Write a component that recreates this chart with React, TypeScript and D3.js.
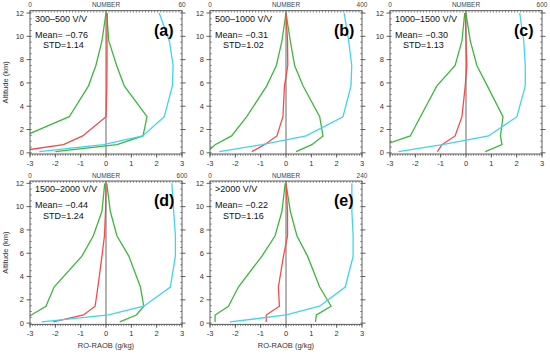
import * as d3 from "d3";

// altitude levels (km) shared by every profile
const levels = [0.1, 0.7, 1.45, 3.1, 5.75, 7.5, 9.6, 12];

const panelIds = ["(a)", "(b)", "(c)", "(d)", "(e)"];
const bins = ["300–500 V/V", "500–1000 V/V", "1000–1500 V/V", "1500–2000 V/V", ">2000 V/V"];
const means = ["−0.76", "−0.31", "−0.30", "−0.44", "−0.22"];
const stds = ["1.14", "1.02", "1.13", "1.24", "1.16"];
const numberMax = [60, 400, 600, 600, 240];

// mean RO-RAOB difference (g/kg)
const meanA = [-3.6, -1.68, -0.92, 0.0, 0.03, 0.04, 0.04, 0.05];
const meanB = [-1.35, -0.85, -0.36, -0.12, -0.06, 0.07, 0.06, 0.0];
const meanC = [-1.13, -0.95, -0.43, -0.16, -0.03, 0.03, 0.0, -0.03];
const meanD = [-2.08, -0.89, -0.43, -0.32, -0.16, -0.06, -0.02, 0.0];
const meanE = [-0.78, -0.78, -0.26, -0.3, -0.1, 0.06, 0.06, 0.0];

// mean - std
const lowA = [-5.0, -4.0, -3.22, -1.45, -0.69, -0.4, -0.16, 0.0];
const lowB = [-3.1, -2.8, -2.15, -1.55, -0.76, -0.38, -0.16, 0.0];
const lowC = [-4.0, -3.2, -2.2, -1.8, -1.15, -0.43, -0.16, -0.05];
const lowD = [-3.6, -2.95, -2.37, -2.05, -0.95, -0.5, -0.16, -0.05];
const lowE = [-2.8, -2.8, -2.27, -1.88, -0.95, -0.43, -0.16, -0.03];

// mean + std
const highA = [-2.0, 0.43, 1.46, 1.62, 0.72, 0.42, 0.11, 0.03];
const highB = [0.4, 1.02, 1.46, 1.33, 0.67, 0.34, 0.17, 0.0];
const highC = [0.76, 1.42, 1.36, 1.46, 0.84, 0.43, 0.17, 0.0];
const highD = [0.54, 1.2, 1.49, 1.36, 0.9, 0.43, 0.17, 0.03];
const highE = [1.16, 1.2, 1.78, 1.33, 0.85, 0.43, 0.17, 0.0];

// sample number (top axis)
const countA = [3.7, 29, 44.5, 53, 56.2, 56.5, 55, 51];
const countB = [24.7, 136.7, 253, 350, 371, 373, 365, 353];
const countC = [33, 207, 389, 501, 534, 534, 528, 512];
const countD = [46, 310, 449, 554, 574, 574, 567, 560];
const countE = [31.6, 120.4, 173, 213.6, 226, 226, 224, 224];

const meanSeries = [meanA, meanB, meanC, meanD, meanE];
const lowSeries = [lowA, lowB, lowC, lowD, lowE];
const highSeries = [highA, highB, highC, highD, highE];
const countSeries = [countA, countB, countC, countD, countE];

const xTicks = [-3, -2, -1, 0, 1, 2, 3];
const yTicks = [0, 2, 4, 6, 8, 10, 12];

const W = 550;
const H = 355;
const pw = 152;
const ph = 143.3;
const origins = [
  [30, 10.7],
  [210, 10.7],
  [390, 10.7],
  [30, 181],
  [210, 181],
];

const RED = "#ff4646";
const GREEN = "#3cb83c";
const CYAN = "#3fd3f5";
const AXIS = "#3a3a3a";
const FONT = "'Liberation Sans', Arial, sans-serif";

function Panel({ i }: { i: number }) {
  const [ox, oy] = origins[i];
  const x = d3.scaleLinear().domain([-3, 3]).range([0, pw]);
  const y = d3.scaleLinear().domain([-0.1, 12.2]).range([ph, 0]);
  const n = d3.scaleLinear().domain([0, numberMax[i]]).range([0, pw]);

  const line = d3
    .line<number>()
    .x((d) => x(d))
    .y((_, k) => y(levels[k]));
  const countLine = d3
    .line<number>()
    .x((d) => n(d))
    .y((_, k) => y(levels[k]));

  const minorX = d3.range(-3, 3.001, 0.1);
  const minorY = d3.range(0, 12.2, 0.5);
  const minorN = d3.range(0, 1.0001, 0.02).map((f) => f * numberMax[i]);
  const clipId = `clip${i}`;

  return (
    <g transform={`translate(${ox},${oy})`}>
      <defs>
        <clipPath id={clipId}>
          <rect x={0} y={0} width={pw} height={ph} />
        </clipPath>
      </defs>
      <rect x={0} y={0} width={pw} height={ph} fill="white" />
      {/* zero line */}
      <line x1={x(0)} x2={x(0)} y1={0} y2={ph} stroke="#b4b4b4" strokeWidth={2} />
      <g clipPath={`url(#${clipId})`} fill="none" strokeWidth={1.3}>
        <path d={line(lowSeries[i]) || ""} stroke={GREEN} />
        <path d={line(highSeries[i]) || ""} stroke={GREEN} />
        <path d={line(meanSeries[i]) || ""} stroke={RED} />
        <path d={countLine(countSeries[i]) || ""} stroke={CYAN} />
      </g>
      {/* frame */}
      <rect x={0} y={0} width={pw} height={ph} fill="none" stroke={AXIS} strokeWidth={0.8} />
      {/* bottom ticks */}
      {minorX.map((v, k) => (
        <line key={"bx" + k} x1={x(v)} x2={x(v)} y1={ph} y2={ph + 1.8} stroke={AXIS} strokeWidth={0.6} />
      ))}
      {xTicks.map((v) => (
        <g key={"xt" + v}>
          <line x1={x(v)} x2={x(v)} y1={ph} y2={ph + 3.5} stroke={AXIS} strokeWidth={0.8} />
          <text x={x(v)} y={ph + 12} fontSize={7.5} textAnchor="middle" fill="#333" fontFamily={FONT}>
            {v}
          </text>
        </g>
      ))}
      {/* top ticks (NUMBER) */}
      {minorN.map((v, k) => (
        <line key={"tn" + k} x1={n(v)} x2={n(v)} y1={0} y2={1.8} stroke={AXIS} strokeWidth={0.6} />
      ))}
      <text x={0} y={-3.5} fontSize={6.5} textAnchor="middle" fill="#444" fontFamily={FONT}>
        0
      </text>
      <text x={pw / 2} y={-3.5} fontSize={6.5} textAnchor="middle" fill="#444" fontFamily={FONT}>
        NUMBER
      </text>
      <text x={pw} y={-3.5} fontSize={6.5} textAnchor="middle" fill="#444" fontFamily={FONT}>
        {numberMax[i]}
      </text>
      {/* left / right ticks */}
      {minorY.map((v, k) => (
        <g key={"my" + k}>
          <line x1={0} x2={1.8} y1={y(v)} y2={y(v)} stroke={AXIS} strokeWidth={0.6} />
          <line x1={pw} x2={pw - 1.8} y1={y(v)} y2={y(v)} stroke={AXIS} strokeWidth={0.6} />
        </g>
      ))}
      {yTicks.map((v) => (
        <g key={"yt" + v}>
          <line x1={0} x2={-3.5} y1={y(v)} y2={y(v)} stroke={AXIS} strokeWidth={0.8} />
          <line x1={pw} x2={pw + 3.5} y1={y(v)} y2={y(v)} stroke={AXIS} strokeWidth={0.8} />
          <text x={-6} y={y(v) + 2.6} fontSize={7.5} textAnchor="end" fill="#333" fontFamily={FONT}>
            {v}
          </text>
        </g>
      ))}
      {/* annotations */}
      <g fontFamily={FONT} fill="#111" fontSize={9}>
        <text x={5} y={11}>{bins[i]}</text>
        <text x={5} y={27}>Mean= {means[i]}</text>
        <text x={13} y={37.5}>STD={stds[i]}</text>
      </g>
      <text x={124} y={25} fontFamily={FONT} fontWeight="bold" fontSize={16} fill="#000">
        {panelIds[i]}
      </text>
      {i % 3 === 0 && (
        <text
          transform={`translate(${-22},${ph / 2}) rotate(-90)`}
          fontSize={7.5}
          textAnchor="middle"
          fill="#333"
          fontFamily={FONT}
        >
          Altitude (km)
        </text>
      )}
      {i >= 3 && (
        <text x={pw / 2} y={ph + 24} fontSize={7.5} textAnchor="middle" fill="#333" fontFamily={FONT}>
          RO-RAOB (g/kg)
        </text>
      )}
    </g>
  );
}

export default function App() {
  return (
    <svg
      width={W}
      height={H}
      style={{ position: "absolute", left: 0, top: 0, background: "white" }}
    >
      <rect width={W} height={H} fill="white" />
      {panelIds.map((_, i) => (
        <Panel key={i} i={i} />
      ))}
    </svg>
  );
}
